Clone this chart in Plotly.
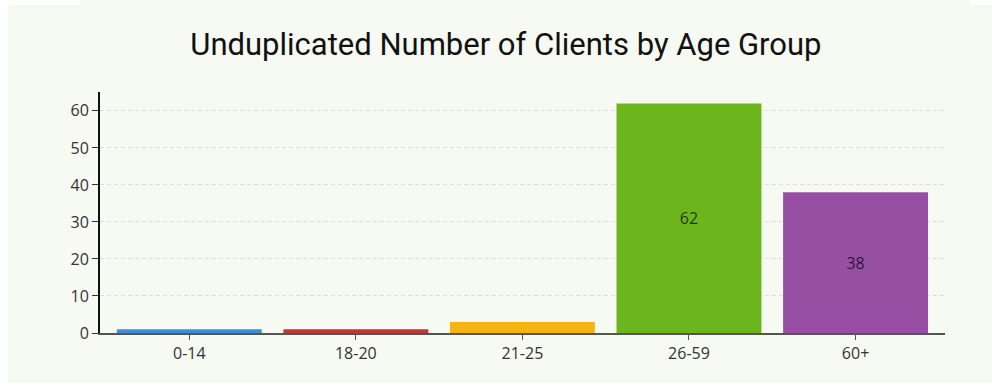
import plotly.graph_objects as go

# Age groups and unduplicated client counts
age_groups = ["0-14", "18-20", "21-25", "26-59", "60+"]
clients = [1, 1, 3, 62, 38]
bar_colors = ["#3b8fd2", "#c0392b", "#f4b50e", "#6cb51d", "#974fa3"]
value_labels = ["", "", "", "62", "38"]

y_ticks = [0, 10, 20, 30, 40, 50, 60]

bg = "#f7f9f3"

fig = go.Figure(
    go.Bar(
        x=age_groups,
        y=clients,
        marker=dict(color=bar_colors, line=dict(width=0)),
        width=0.87,
        text=value_labels,
        textposition="inside",
        insidetextanchor="middle",
        textfont=dict(family="Open Sans", size=16, color="rgba(0,0,0,0.72)"),
        cliponaxis=False,
        hoverinfo="x+y",
    )
)

fig.update_layout(
    width=992,
    height=387,
    paper_bgcolor="white",
    plot_bgcolor=bg,
    margin=dict(l=100, r=47, t=92, b=54),
    title=dict(
        text="Unduplicated Number of Clients by Age Group",
        x=0.51,
        xanchor="center",
        y=0.885,
        yanchor="middle",
        font=dict(family="Roboto", size=31, color="#111"),
    ),
    showlegend=False,
    shapes=[
        dict(type="rect", xref="paper", yref="paper", layer="below",
             x0=-92 / 845, x1=1 + 47 / 845, y0=1 + 87 / 241, y1=-50 / 241,
             fillcolor=bg, line=dict(width=0)),
        dict(type="rect", xref="paper", yref="paper", layer="below",
             x0=(80 - 100) / 845, x1=(970 - 100) / 845, y0=1, y1=1 + 92 / 241,
             fillcolor=bg, line=dict(width=0)),
    ],
)

fig.update_xaxes(
    range=[-0.536, 4.537],
    showline=True,
    linecolor="#555",
    linewidth=2,
    ticks="outside",
    ticklen=5,
    tickcolor="#555",
    tickfont=dict(family="Open Sans", size=16, color="#333"),
    showgrid=False,
    zeroline=False,
)

fig.update_yaxes(
    range=[0, 65.1],
    tickvals=y_ticks,
    showline=True,
    linecolor="#111",
    linewidth=2,
    ticks="outside",
    ticklen=6,
    tickcolor="#333",
    tickfont=dict(family="Open Sans", size=16, color="#333"),
    showgrid=True,
    gridcolor="#dedede",
    griddash="4px,3px",
    gridwidth=1,
    zeroline=False,
)

fig.write_html("out.html")
